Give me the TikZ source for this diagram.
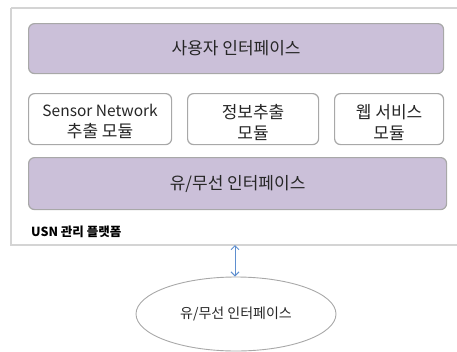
\documentclass[tikz,border=0pt]{standalone}
\usepackage{fontspec}
\setmainfont{Noto Sans CJK KR}
\usetikzlibrary{arrows.meta,shapes.geometric}
\definecolor{purp}{HTML}{CBC0D9}
\definecolor{edge}{HTML}{A8A8A8}
\definecolor{outer}{HTML}{D4D4D4}
\definecolor{arr}{HTML}{5F8FCF}
\begin{document}
\begin{tikzpicture}[x=1pt,y=-1pt,
  bar/.style={draw=edge,line width=1.2pt,fill=purp,rounded corners=6pt},
  modbox/.style={draw=edge,line width=1.2pt,fill=white,rounded corners=6pt},
  txt/.style={font=\fontsize{17}{20}\selectfont,align=center,text=black!85},
  modtxt/.style={font=\fontsize{17}{21}\selectfont,align=center,text=black!85,inner sep=0pt,anchor=north}]
\useasboundingbox (0,0) rectangle (457,351);
\draw[outer,line width=1.5pt,fill=white] (11,8) -- (462,8) (11,8) -- (11,245) -- (462,245);
\node[bar,minimum width=415pt,minimum height=50pt,anchor=north west] (ui) at (28,23) {};
\node[txt] at (ui.center) {사용자 인터페이스};
\node[modbox,minimum width=143pt,minimum height=51pt,anchor=north west] (m1) at (28,93) {};
\node[modtxt] at ([yshift=-11pt]m1.north) {{\fontsize{15.5}{21}\selectfont Sensor Network}\\추출 모듈};
\node[modbox,minimum width=131pt,minimum height=51pt,anchor=north west] (m2) at (187,93) {};
\node[modtxt] at ([yshift=-11pt]m2.north) {정보추출\\모듈};
\node[modbox,minimum width=109pt,minimum height=51pt,anchor=north west] (m3) at (334,93) {};
\node[modtxt] at ([yshift=-11pt]m3.north) {웹 서비스\\모듈};
\node[bar,minimum width=418pt,minimum height=52pt,anchor=north west] (wi) at (28,157) {};
\node[txt] at (wi.center) {유/무선 인터페이스};
\node[anchor=west,inner sep=0pt,font=\fontsize{12.5}{14}\selectfont\bfseries] (lbl) at (31,232) {USN 관리 플랫폼};
\coordinate (top) at (235,245);
\node[draw=edge,line width=0.9pt,ellipse,minimum width=200pt,minimum height=74pt] (el) at (236,314) {};
\node[font=\fontsize{14}{16}\selectfont,text=black!85] at (el.center) {유/무선 인터페이스};
\draw[arr,line width=1pt,{Straight Barb[length=4pt]}-{Straight Barb[length=4pt]}] (top) -- (el.north -| top);
\end{tikzpicture}
\end{document}
